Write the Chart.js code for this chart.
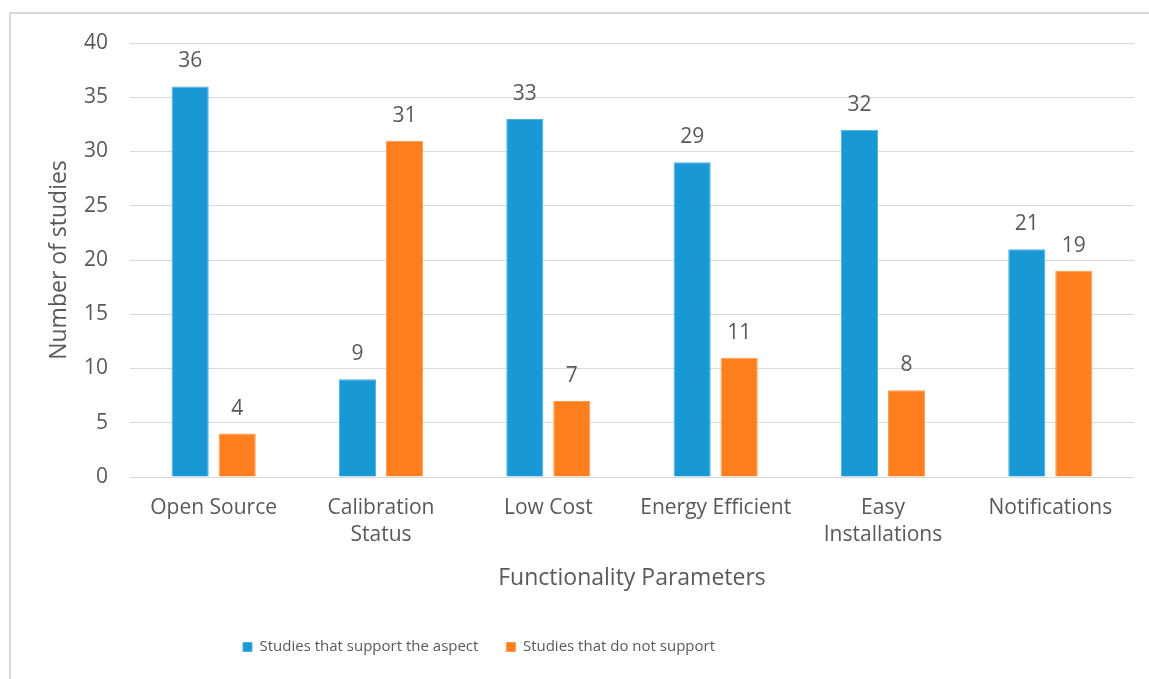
<!DOCTYPE html>
<html>
<head>
<meta charset="utf-8">
<script src="https://cdn.jsdelivr.net/npm/chart.js@4/dist/chart.umd.min.js"></script>
<style>
  html, body { margin: 0; padding: 0; background: #ffffff; }
  #wrap { width: 1149px; height: 679px; position: relative; }
</style>
</head>
<body>
<div id="wrap"><canvas id="c" width="1149" height="679"></canvas></div>
<script>
const categories = [["Open Source"], ["Calibration", "Status"], ["Low Cost"], ["Energy Efficient"], ["Easy", "Installations"], ["Notifications"]];
const supportValues = [36, 9, 33, 29, 32, 21];
const notSupportValues = [4, 31, 7, 11, 8, 19];
const seriesNames = ["Studies that support the aspect", "Studies that do not support"];
const yTicks = [0, 5, 10, 15, 20, 25, 30, 35, 40];

const FONT = "'Open Sans', 'Noto Sans', sans-serif";
const TXT = '#595959';

const borderPlugin = {
  id: 'outerBorder',
  beforeDraw(chart) {
    const ctx = chart.ctx;
    ctx.save();
    ctx.strokeStyle = '#d9d9d9';
    ctx.lineWidth = 2;
    ctx.beginPath();
    ctx.moveTo(10, 679);
    ctx.lineTo(10, 13);
    ctx.lineTo(1149, 13);
    ctx.stroke();
    ctx.restore();
  }
};

const legendShift = {
  id: 'legendShift',
  afterLayout(chart) {
    const lg = chart.legend;
    if (lg) { lg.left = 243 - lg.options.labels.padding; }
  }
};

const dataLabelPlugin = {
  id: 'valueLabels',
  afterDatasetsDraw(chart) {
    const ctx = chart.ctx;
    ctx.save();
    ctx.font = "21px " + FONT;
    ctx.fillStyle = TXT;
    ctx.textAlign = 'center';
    ctx.textBaseline = 'middle';
    chart.data.datasets.forEach((ds, i) => {
      const meta = chart.getDatasetMeta(i);
      meta.data.forEach((el, j) => {
        ctx.fillText(String(ds.data[j]), el.x, el.y - 25);
      });
    });
    ctx.restore();
  }
};

new Chart(document.getElementById('c'), {
  type: 'bar',
  data: {
    labels: categories,
    datasets: [
      { label: seriesNames[0], data: supportValues, backgroundColor: '#1899D6', borderColor: '#4FB0E0', borderWidth: 1,
        categoryPercentage: 0.562, barPercentage: 0.79 },
      { label: seriesNames[1], data: notSupportValues, backgroundColor: '#FF7F1F', borderColor: '#FF9A50', borderWidth: 1,
        categoryPercentage: 0.562, barPercentage: 0.79 }
    ]
  },
  options: {
    responsive: false,
    animation: false,
    devicePixelRatio: 1,
    layout: { padding: { left: 12, top: 43, right: 15, bottom: 14.5 } },
    plugins: {
      legend: {
        position: 'bottom',
        align: 'start',
        labels: {
          color: TXT,
          font: { family: FONT, size: 15 },
          boxWidth: 9, boxHeight: 9,
          padding: 28
        }
      },
      tooltip: { enabled: false }
    },
    scales: {
      x: {
        grid: { display: false, drawTicks: false },
        border: { display: false },
        ticks: { color: TXT, font: { family: FONT, size: 21, lineHeight: '27px' }, padding: 18, maxRotation: 0, autoSkip: false },
        title: { display: true, text: 'Functionality Parameters', color: TXT, font: { family: FONT, size: 23 }, padding: { top: 0, bottom: 19.7 } },
        afterFit(scale) { scale.height = 134.5; }
      },
      y: {
        min: 0, max: 40,
        afterBuildTicks(scale) { scale.ticks = yTicks.map(v => ({ value: v })); },
        grid: { color: '#d9d9d9', lineWidth: 1, drawTicks: false },
        border: { display: false },
        ticks: { color: TXT, font: { family: FONT, size: 21 }, padding: 22 },
        title: { display: true, text: 'Number of studies', color: TXT, font: { family: FONT, size: 23 }, padding: { top: 34, bottom: 0 } },
        afterFit(scale) { scale.width = 118; }
      }
    }
  },
  plugins: [borderPlugin, legendShift, dataLabelPlugin]
});
</script>
</body>
</html>
